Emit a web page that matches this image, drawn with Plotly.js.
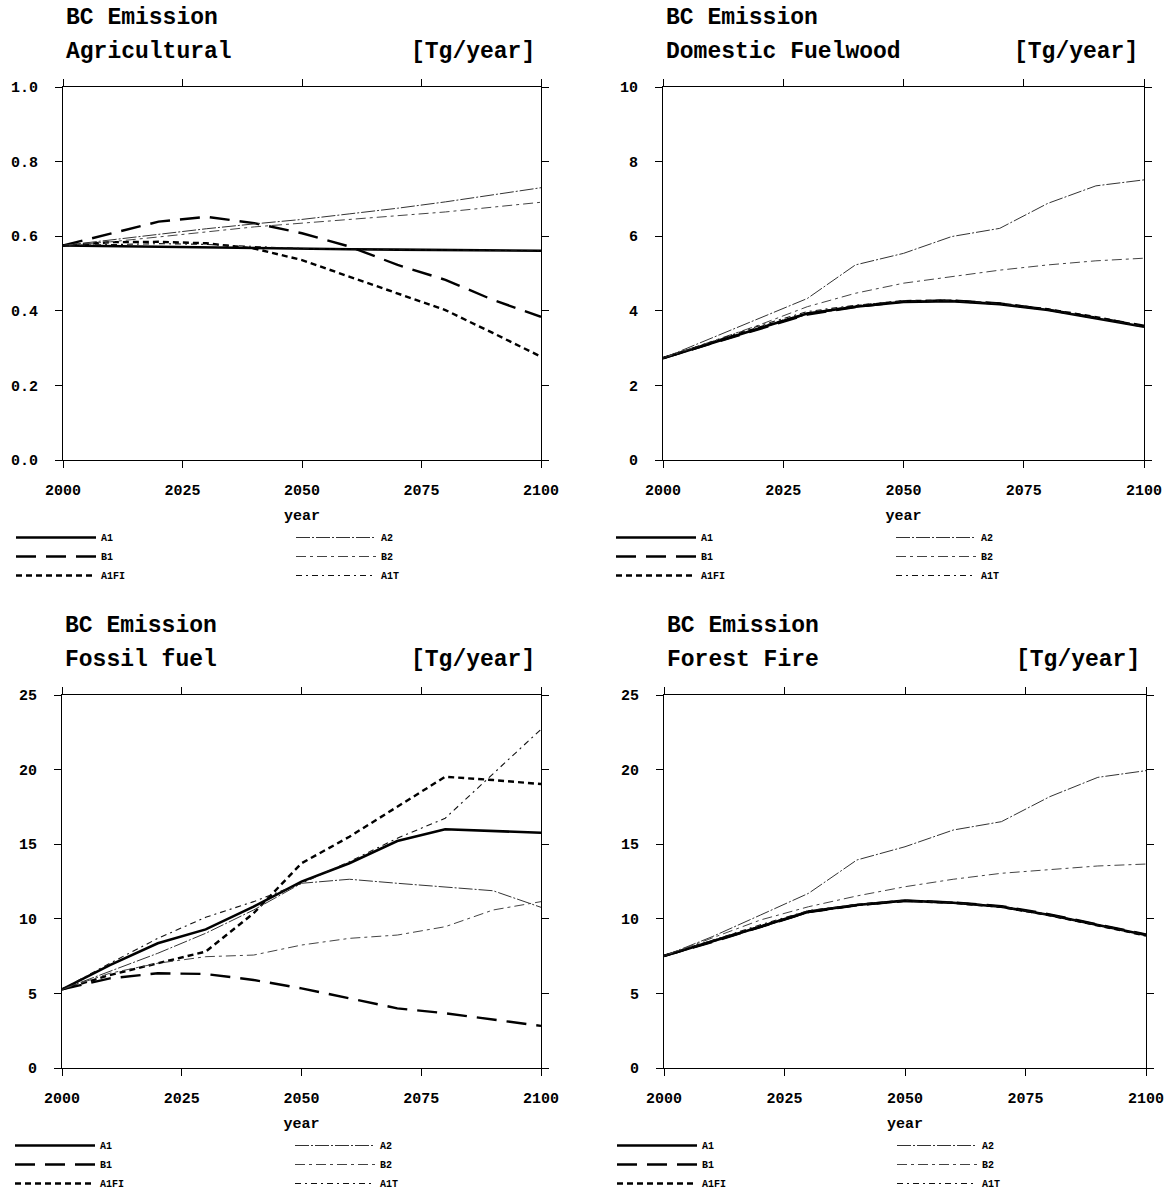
<!DOCTYPE html>
<html>
<head>
<meta charset="utf-8">
<script src="https://cdn.plot.ly/plotly-3.0.1.min.js"></script>
<style>
html,body{margin:0;padding:0;background:#fff;overflow:hidden;}
#chart{width:1174px;height:1190px;}
</style>
</head>
<body>
<div id="chart"></div>
<script>
// ---------- data ----------
const years = [2000, 2010, 2020, 2030, 2040, 2050, 2060, 2070, 2080, 2090, 2100];
const scenarios = ["A1", "B1", "A1FI", "A2", "B2", "A1T"];
const panelTitles = ["Agricultural", "Domestic Fuelwood", "Fossil fuel", "Forest Fire"];
const unitLabel = "[Tg/year]";
const headLabel = "BC Emission";
const xTickVals = [2000, 2025, 2050, 2075, 2100];

// Agricultural
const agriA1   = [0.575,0.573,0.571,0.569,0.567,0.566,0.565,0.564,0.563,0.562,0.561];
const agriB1   = [0.575,0.608,0.639,0.652,0.635,0.608,0.572,0.523,0.483,0.429,0.384];
const agriA1FI = [0.575,0.584,0.585,0.581,0.567,0.536,0.491,0.447,0.402,0.340,0.277];
const agriA2   = [0.575,0.590,0.605,0.620,0.633,0.645,0.660,0.675,0.692,0.710,0.730];
const agriB2   = [0.575,0.585,0.598,0.612,0.625,0.635,0.645,0.655,0.665,0.678,0.691];
const agriA1T  = [0.575,0.578,0.580,0.578,0.572,0.567,0.565,0.564,0.563,0.562,0.561];

// Domestic Fuelwood
const fuelA1   = [2.73,3.13,3.53,3.93,4.11,4.24,4.26,4.18,4.02,3.80,3.57];
const fuelB1   = [2.73,3.12,3.50,3.90,4.10,4.25,4.28,4.20,4.03,3.82,3.60];
const fuelA1FI = [2.73,3.14,3.55,3.92,4.12,4.26,4.27,4.19,4.04,3.83,3.58];
const fuelA2   = [2.73,3.26,3.80,4.33,5.23,5.54,5.99,6.21,6.88,7.35,7.51];
const fuelB2   = [2.73,3.17,3.62,4.11,4.47,4.74,4.91,5.09,5.23,5.34,5.41];
const fuelA1T  = [2.73,3.16,3.60,3.98,4.15,4.26,4.27,4.19,4.03,3.81,3.58];

// Fossil fuel
const fossA1   = [5.27,6.90,8.36,9.29,10.81,12.49,13.72,15.21,16.00,15.91,15.77];
const fossB1   = [5.27,6.01,6.35,6.30,5.90,5.34,4.67,4.00,3.67,3.26,2.82];
const fossA1FI = [5.27,6.23,7.02,7.80,10.37,13.72,15.50,17.51,19.52,19.30,19.03];
const fossA2   = [5.27,6.50,7.69,9.03,10.59,12.38,12.65,12.38,12.11,11.88,10.77];
const fossB2   = [5.27,6.35,7.02,7.46,7.57,8.24,8.69,8.91,9.47,10.59,11.15];
const fossA1T  = [5.27,7.02,8.69,10.10,11.15,12.38,13.83,15.40,16.74,19.75,22.70];

// Forest Fire
const fireA1   = [7.51,8.47,9.47,10.48,10.92,11.22,11.08,10.81,10.25,9.58,8.91];
const fireB1   = [7.51,8.45,9.45,10.45,10.90,11.20,11.10,10.85,10.30,9.62,8.95];
const fireA1FI = [7.51,8.48,9.48,10.47,10.93,11.21,11.07,10.80,10.24,9.57,8.88];
const fireA2   = [7.51,8.80,10.25,11.71,13.94,14.83,15.95,16.51,18.18,19.48,19.93];
const fireB2   = [7.51,8.69,9.92,10.81,11.53,12.15,12.65,13.05,13.32,13.54,13.67];
const fireA1T  = [7.51,8.55,9.60,10.55,10.95,11.22,11.08,10.81,10.25,9.58,8.91];

const yMax = [1.0, 10, 25, 25];
const yTickVals = [[0,0.2,0.4,0.6,0.8,1.0],[0,2,4,6,8,10],[0,5,10,15,20,25],[0,5,10,15,20,25]];
const yTickText = [["0.0","0.2","0.4","0.6","0.8","1.0"],["0","2","4","6","8","10"],["0","5","10","15","20","25"],["0","5","10","15","20","25"]];

const panelSeries = [
  [agriA1, agriB1, agriA1FI, agriA2, agriB2, agriA1T],
  [fuelA1, fuelB1, fuelA1FI, fuelA2, fuelB2, fuelA1T],
  [fossA1, fossB1, fossA1FI, fossA2, fossB2, fossA1T],
  [fireA1, fireB1, fireA1FI, fireA2, fireB2, fireA1T]
];

// ---------- styles ----------
const W = 1174, H = 1190;
const FONT = "Liberation Mono, Courier New, monospace";
const lineStyles = {
  A1:   {color:"#000", width:2.6, dash:"solid"},
  B1:   {color:"#000", width:2.4, dash:"20px,10px"},
  A1FI: {color:"#000", width:2.4, dash:"6px,4px"},
  A2:   {color:"#333", width:1.0, dash:"14px,2px,2px,2px"},
  B2:   {color:"#444", width:1.0, dash:"10px,4px,3px,4px"},
  A1T:  {color:"#111", width:1.1, dash:"6px,4px,2px,4px"}
};
// panel pixel boxes: [left, right, top, bottom]
const boxes = [
  [63, 541, 87, 460],
  [663, 1144, 87, 460],
  [62, 541, 695, 1068],
  [664, 1146, 695, 1068]
];

const traces = [];
const layout = {
  width: W, height: H,
  margin: {l:0, r:0, t:0, b:0, autoexpand: false},
  paper_bgcolor: "#fff", plot_bgcolor: "#fff",
  showlegend: true,
  annotations: [],
  font: {family: FONT, color: "#000"}
};

boxes.forEach((b, p) => {
  const xa = "xaxis" + (p === 0 ? "" : (p + 1));
  const ya = "yaxis" + (p === 0 ? "" : (p + 1));
  const xr = "x" + (p === 0 ? "" : (p + 1));
  const yr = "y" + (p === 0 ? "" : (p + 1));
  const legL = "legend" + (p === 0 ? "" : (2 * p + 1));
  const legR = "legend" + (2 * p + 2);

  scenarios.forEach((s, i) => {
    traces.push({
      type: "scatter", mode: "lines",
      x: years, y: panelSeries[p][i],
      name: s, xaxis: xr, yaxis: yr,
      legend: i < 3 ? legL : legR,
      line: lineStyles[s],
      hoverinfo: "x+y+name"
    });
  });

  const axCommon = {
    showline: true, linecolor: "#000", linewidth: 1, mirror: "ticks",
    ticks: "outside", ticklen: 7, tickcolor: "#000", tickwidth: 1,
    showgrid: false, zeroline: false, automargin: false,
    tickfont: {family: FONT, size: 15, weight: "bold", color: "#000"}
  };
  layout[xa] = Object.assign({}, axCommon, {
    domain: [b[0] / W, b[1] / W], range: [2000, 2100],
    tickmode: "array", tickvals: xTickVals,
    anchor: yr, ticklabelstandoff: 9,
    title: {text: "year", font: {family: FONT, size: 15, weight: "bold"}, standoff: 10}
  });
  layout[ya] = Object.assign({}, axCommon, {
    domain: [1 - b[3] / H, 1 - b[2] / H], range: [0, yMax[p]],
    tickmode: "array", tickvals: yTickVals[p], ticktext: yTickText[p],
    anchor: xr, ticklabelstandoff: 14
  });

  // legends
  const legY = 1 - (b[3] + 63) / H;
  layout[legL] = {
    x: (b[0] - 52) / W, xanchor: "left", y: legY, yanchor: "top",
    bgcolor: "rgba(0,0,0,0)", itemwidth: 80, tracegroupgap: 0,
    font: {family: FONT, size: 10, weight: "bold", color: "#000"}
  };
  layout[legR] = {
    x: (b[0] + 228) / W, xanchor: "left", y: legY, yanchor: "top",
    bgcolor: "rgba(0,0,0,0)", itemwidth: 80, tracegroupgap: 0,
    font: {family: FONT, size: 10, weight: "bold", color: "#000"}
  };

  // titles
  const tTop = b[2] - 69;
  layout.annotations.push({
    xref: "paper", yref: "paper", x: (b[0] + 1) / W, y: 1 - tTop / H,
    xanchor: "left", yanchor: "middle", showarrow: false,
    text: headLabel, font: {family: FONT, size: 23, weight: "bold"}
  });
  layout.annotations.push({
    xref: "paper", yref: "paper", x: (b[0] + 1) / W, y: 1 - (tTop + 34) / H,
    xanchor: "left", yanchor: "middle", showarrow: false,
    text: panelTitles[p], font: {family: FONT, size: 23, weight: "bold"}
  });
  layout.annotations.push({
    xref: "paper", yref: "paper", x: (b[1] - 4) / W, y: 1 - (tTop + 34) / H,
    xanchor: "right", yanchor: "middle", showarrow: false,
    text: unitLabel, font: {family: FONT, size: 23, weight: "bold"}
  });
});

Plotly.newPlot("chart", traces, layout, {displayModeBar: false, staticPlot: true});
</script>
</body>
</html>
